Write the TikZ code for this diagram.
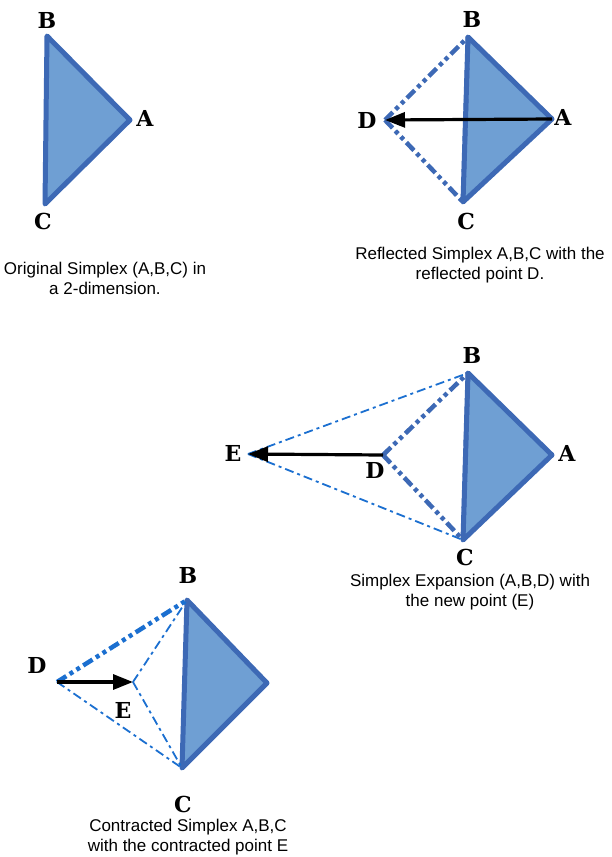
\documentclass[tikz,border=0pt]{standalone}
\usepackage{fontspec}
\setmainfont{Liberation Sans}
\newfontfamily\vertexfont{DejaVu Serif}
\usetikzlibrary{arrows.meta}
\definecolor{simplexfill}{HTML}{6F9FD3}
\definecolor{simplexedge}{HTML}{3D69B5}
\definecolor{trialblue}{HTML}{1B6FD0}
\tikzset{
  simplex/.style={
    draw=simplexedge,
    fill=simplexfill,
    line width=5pt,
    line join=round
  },
  trial/.style={
    draw=simplexedge,
    line width=4.5pt,
    dash pattern=on 11pt off 4pt on 4pt off 4pt on 4pt off 4pt
  },
  guide/.style={
    draw=trialblue,
    line width=1.8pt,
    dash pattern=on 9pt off 4pt on 3pt off 4pt
  },
  move/.style={
    line width=3.2pt,
    -{Triangle[length=20pt,width=15pt]}
  },
  vertex/.style={
    font=\vertexfont\bfseries\fontsize{22}{22}\selectfont,
    inner sep=0pt
  },
  caption/.style={
    font=\fontsize{17}{20}\selectfont,
    align=center,
    inner sep=0pt
  }
}

\begin{document}
\begin{tikzpicture}[x=1pt,y=-1pt]
    \useasboundingbox (0,0) rectangle (611,857);
    % original simplex
    \coordinate (A1) at (130,120);
    \coordinate (B1) at (47,36);
    \coordinate (C1) at (45,204);
    \draw[simplex] (A1)--(B1)--(C1)--cycle;
    \node[vertex] (lA1) at (145,118) {A};
    \node[vertex] (lB1) at (47,20) {B};
    \node[vertex] (lC1) at (43,221) {C};
    \node[caption] (cap1) at (105,278) {Original Simplex (A,B,C) in\\a 2-dimension.};

    % reflection
    \coordinate (A2) at (552,119);
    \coordinate (B2) at (468,37);
    \coordinate (C2) at (463,202);
    \coordinate (D2) at (385,120);
    \draw[simplex] (A2)--(B2)--(C2)--cycle;
    \draw[trial] (D2)--(B2);
    \draw[trial] (D2)--(C2);
    \draw[trial] (B2)--(C2);
    \draw[move] (A2)--(D2);
    \node[vertex] (lA2) at (563,117) {A};
    \node[vertex] (lB2) at (472,19) {B};
    \node[vertex] (lC2) at (466,221) {C};
    \node[vertex] (lD2) at (367,120) {D};
    \node[caption] (cap2) at (480,265) {Reflected Simplex A,B,C with the\\reflected point D.};

    % expansion
    \coordinate (A3) at (552,455);
    \coordinate (B3) at (468,373);
    \coordinate (C3) at (463,540);
    \coordinate (D3) at (383,455);
    \coordinate (E3) at (248,454);
    \draw[simplex] (A3)--(B3)--(C3)--cycle;
    \draw[guide] (E3)--(B3);
    \draw[guide] (E3)--(C3);
    \draw[trial] (D3)--(B3);
    \draw[trial] (D3)--(C3);
    \draw[trial] (B3)--(C3);
    \draw[move] (D3)--(E3);
    \node[vertex] (lA3) at (567,453) {A};
    \node[vertex] (lB3) at (472,355) {B};
    \node[vertex] (lC3) at (465,557) {C};
    \node[vertex] (lD3) at (375,470) {D};
    \node[vertex] (lE3) at (233,453) {E};
    \node[caption] (cap3) at (470,592) {Simplex Expansion (A,B,D) with\\the new point (E)};

    % contraction
    \coordinate (A4) at (267,683);
    \coordinate (B4) at (187,600);
    \coordinate (C4) at (182,768);
    \coordinate (D4) at (57,682);
    \coordinate (E4) at (133,682);
    \draw[simplex] (A4)--(B4)--(C4)--cycle;
    \draw[trial, draw=trialblue] (D4)--(B4);
    \draw[guide] (D4)--(C4);
    \draw[guide] (E4)--(B4);
    \draw[guide] (E4)--(C4);
    \draw[move] (D4)--(E4);
    \node[vertex] (lB4) at (188,575) {B};
    \node[vertex] (lC4) at (183,804) {C};
    \node[vertex] (lD4) at (37,665) {D};
    \node[vertex] (lE4) at (123,710) {E};
    \node[caption] (cap4) at (188,837) {Contracted Simplex A,B,C\\with the contracted point E};
\end{tikzpicture}
\end{document}
